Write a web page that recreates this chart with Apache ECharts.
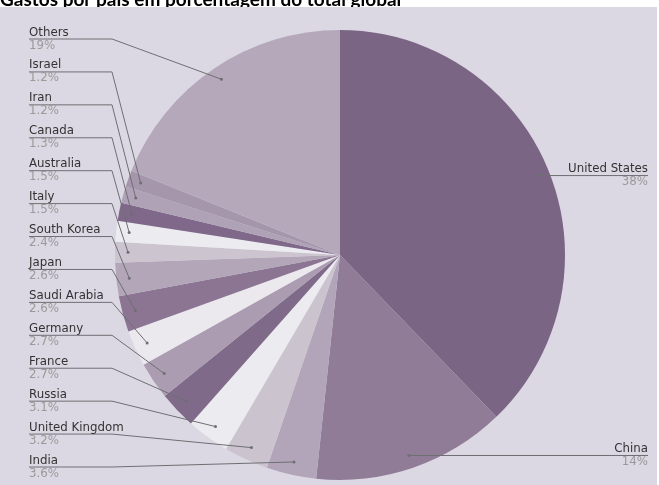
<!DOCTYPE html>
<html>
<head>
<meta charset="utf-8">
<script src="https://cdn.jsdelivr.net/npm/echarts@6/dist/echarts.min.js"></script>
<style>
html,body{margin:0;padding:0;background:#ffffff;}
#chart{width:659px;height:485px;}
</style>
</head>
<body>
<div id="chart"></div>
<script>
const titleText = 'Gastos por país em porcentagem do total global';
const categories = ['United States','China','India','United Kingdom','Russia','France','Germany','Saudi Arabia','Japan','South Korea','Italy','Australia','Canada','Iran','Israel','Others'];
const shares = [38,14,3.6,3.2,3.1,2.7,2.7,2.6,2.6,2.4,1.5,1.5,1.3,1.2,1.2,19];
const colors = ['#7b6585','#917c98','#b3a5b9','#cbc4cf','#ecebf0','#806a8a','#ab9cb1','#ebe9ee','#8b7593','#b3a6b9','#ccc5d0','#ecebf0','#7f6889','#b0a2b6','#a696ac','#b5a8bb'];

const CX = 340, CY = 255, R = 225, DOT_R = 212;
const LEFT_X = 29, RIGHT_X = 648, BEND_X = 112;
const LEFT_TOP = 39, LEFT_BOTTOM = 467;
const N = categories.length;
const leftCount = N - 2;
const step = (LEFT_BOTTOM - LEFT_TOP) / (leftCount - 1);

const data = categories.map((c, i) => ({ name: c, value: shares[i], itemStyle: { color: colors[i] } }));
const ghostData = categories.map((c, i) => ({ name: c, value: shares[i] }));

function dotPos(pts) {
  const ex = pts[0][0] - CX, ey = pts[0][1] - CY;
  const len = Math.sqrt(ex * ex + ey * ey) || 1;
  return [CX + ex / len * DOT_R, CY + ey / len * DOT_R, ex < 0];
}

const ghostBase = {
  type: 'pie',
  center: [CX, CY],
  radius: R,
  startAngle: 90,
  clockwise: true,
  avoidLabelOverlap: false,
  silent: true,
  data: ghostData,
  itemStyle: { color: 'rgba(0,0,0,0)', borderWidth: 0 }
};

const chart = echarts.init(document.getElementById('chart'), null, { renderer: 'canvas' });
chart.setOption({
  backgroundColor: 'transparent',
  animation: false,
  title: {
    text: titleText,
    left: 0,
    top: -10,
    padding: 0,
    z: 0,
    textStyle: { fontFamily: 'Lato', fontWeight: 'bold', fontSize: 19, color: '#000' }
  },
  graphic: {
    elements: [{
      type: 'rect', z: 1, silent: true,
      shape: { x: 0, y: 7, width: 657, height: 478 },
      style: { fill: '#dcd8e3' }
    }]
  },
  series: [{
    type: 'pie',
    z: 2,
    center: [CX, CY],
    radius: R,
    startAngle: 90,
    clockwise: true,
    silent: true,
    data: data,
    itemStyle: { borderWidth: 0 },
    label: { show: false },
    labelLine: { show: false }
  }, Object.assign({}, ghostBase, {
    z: 3,
    label: {
      show: true,
      position: 'outside',
      formatter: p => '{n|' + p.name + '}\n{p|' + p.value + '%}',
      rich: {
        n: { fontFamily: 'DejaVu Sans', fontSize: 11.8, color: '#333333', lineHeight: 13 },
        p: { fontFamily: 'DejaVu Sans', fontSize: 11.8, color: '#9a9a9a', lineHeight: 13 }
      }
    },
    labelLine: { show: true, length: 10, length2: 10, lineStyle: { color: '#6f6f73', width: 1 } },
    labelLayout: function (params) {
      const d = dotPos(params.labelLinePoints);
      if (d[2]) {
        const y = LEFT_TOP + (N - 1 - params.dataIndex) * step;
        return { x: LEFT_X, y: y, align: 'left', verticalAlign: 'middle',
          labelLinePoints: [[d[0], d[1]], [BEND_X, y], [LEFT_X, y]] };
      }
      return { x: RIGHT_X, y: d[1], align: 'right', verticalAlign: 'middle',
        labelLinePoints: [[d[0], d[1]], [d[0] + 10, d[1]], [RIGHT_X, d[1]]] };
    }
  }), Object.assign({}, ghostBase, {
    z: 4,
    label: {
      show: true,
      position: 'outside',
      formatter: '{d| }',
      rich: { d: { width: 3, height: 3, borderRadius: 1.5, backgroundColor: '#6f6f73', fontSize: 1, lineHeight: 3 } }
    },
    labelLine: { show: true, length: 5, length2: 5, lineStyle: { opacity: 0 } },
    labelLayout: function (params) {
      const d = dotPos(params.labelLinePoints);
      return { x: d[0], y: d[1], align: 'center', verticalAlign: 'middle' };
    }
  })]
});
</script>
</body>
</html>
